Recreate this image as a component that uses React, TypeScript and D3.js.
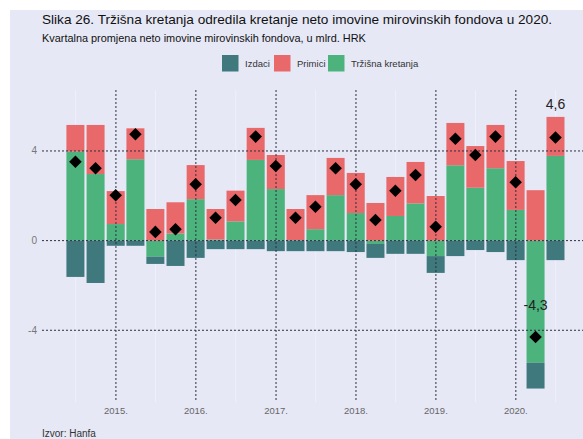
import React from "react";
import * as d3 from "d3";

const quarters = [
  "2014-06-30","2014-09-30","2014-12-31",
  "2015-03-31","2015-06-30","2015-09-30","2015-12-31",
  "2016-03-31","2016-06-30","2016-09-30","2016-12-31",
  "2017-03-31","2017-06-30","2017-09-30","2017-12-31",
  "2018-03-31","2018-06-30","2018-09-30","2018-12-31",
  "2019-03-31","2019-06-30","2019-09-30","2019-12-31",
  "2020-03-31","2020-06-30",
];
const trzisna = [3.97,2.97,0.74,3.63,-0.72,0.32,1.85,0.05,0.86,3.6,2.3,0.02,0.51,2.03,1.23,-0.15,1.1,1.66,-0.69,3.36,2.36,3.23,1.37,-5.45,3.78];
const primici = [1.19,2.19,1.47,1.38,1.41,1.39,1.52,1.36,1.37,1.43,1.52,1.39,1.52,1.66,1.79,1.68,1.74,1.85,1.99,1.89,1.86,1.93,2.18,2.25,1.74];
const izdaci = [-1.62,-1.89,-0.23,-0.23,-0.32,-1.13,-0.77,-0.38,-0.38,-0.38,-0.47,-0.47,-0.47,-0.47,-0.51,-0.62,-0.59,-0.59,-0.75,-0.69,-0.42,-0.51,-0.87,-1.15,-0.87];
const neto = [3.52,3.23,2.02,4.75,0.39,0.51,2.52,1.02,1.81,4.64,3.33,1.02,1.51,3.23,2.52,0.92,2.23,2.93,0.62,4.54,3.82,4.64,2.6,-4.3,4.6];
const yearTicks = [2015,2016,2017,2018,2019,2020];
const yTicks = [-4,0,4];
const labelled = [{ i: 24, text: "4,6" }, { i: 23, text: "-4,3" }];
const seriesNames = ["Izdaci","Primici","Tržišna kretanja"];

const W = 583, H = 439;
const colors = { izdaci: "#3f797e", primici: "#e9686a", trzisna: "#4cb37d" };
const font = "'Liberation Sans', Arial, sans-serif";

export default function App() {
  const parse = d3.timeParse("%Y-%m-%d");
  const dates = quarters.map(q => parse(q) as Date);
  const x = d3.scaleTime().domain([new Date(2014,0,1), new Date(2021,0,1)]).range([36, 596]);
  const y = d3.scaleLinear().domain([-7.2, 6.72]).range([402, 90]);
  const left = 42, right = 583, top = 90, bottom = 402;
  const bw = 18;

  const bars: any[] = [];
  dates.forEach((d, i) => {
    const cx = x(d);
    const g = trzisna[i];
    const gy0 = y(Math.max(0, g)), gy1 = y(Math.min(0, g));
    const posBase = Math.max(0, g);
    const negBase = Math.min(0, g);
    bars.push(<rect key={"g"+i} x={cx-bw/2} y={gy0} width={bw} height={gy1-gy0} fill={colors.trzisna} />);
    bars.push(<rect key={"p"+i} x={cx-bw/2} y={y(posBase+primici[i])} width={bw} height={y(posBase)-y(posBase+primici[i])} fill={colors.primici} />);
    bars.push(<rect key={"z"+i} x={cx-bw/2} y={y(negBase)} width={bw} height={y(negBase+izdaci[i])-y(negBase)} fill={colors.izdaci} />);
  });

  const midYears = d3.range(2014, 2021).map(yr => new Date(yr, 6, 1));
  const diamond = d3.symbol().type(d3.symbolDiamond2).size(100)();

  const legendItems = [
    { name: seriesNames[0], c: colors.izdaci, sx: 222, tx: 245 },
    { name: seriesNames[1], c: colors.primici, sx: 274, tx: 297 },
    { name: seriesNames[2], c: colors.trzisna, sx: 328, tx: 351 },
  ];

  return (
    <svg width={W} height={H} style={{ position: "absolute", left: 0, top: 0 }} fontFamily={font}>
      <rect x={0} y={0} width={W} height={H} fill="#fff" />
      <rect x={10} y={10} width={W-10} height={H-10} fill="#e6e8f6" />
      <text x={42} y={24} fontSize={13.6} fill="#111">Slika 26. Tržišna kretanja odredila kretanje neto imovine mirovinskih fondova u 2020.</text>
      <text x={42} y={42} fontSize={10.9} fill="#111">Kvartalna promjena neto imovine mirovinskih fondova, u mlrd. HRK</text>
      {legendItems.map(l => (
        <g key={l.name}>
          <rect x={l.sx} y={55} width={16.5} height={16.5} fill={l.c} />
          <text x={l.tx} y={67} fontSize={9.5} fill="#333">{l.name}</text>
        </g>
      ))}
      {midYears.map((d, i) => (
        <line key={"m"+i} x1={x(d)} x2={x(d)} y1={top} y2={bottom} stroke="#eef0fa" strokeWidth={1} />
      ))}
      {bars}
      {yTicks.map(t => (
        <g key={"y"+t}>
          <line x1={left} x2={right} y1={y(t)} y2={y(t)} stroke="#2c3040" strokeWidth={1} strokeDasharray="2,2" />
          <text x={37} y={y(t)+3.5} fontSize={10} fill="#777" textAnchor="end">{t}</text>
        </g>
      ))}
      {yearTicks.map(yr => {
        const xx = x(new Date(yr, 0, 1));
        return (
          <g key={"x"+yr}>
            <line x1={xx} x2={xx} y1={top} y2={bottom} stroke="#2c3040" strokeWidth={1} strokeDasharray="2,2" />
            <text x={xx} y={414} fontSize={9.5} fill="#666" textAnchor="middle">{yr + "."}</text>
          </g>
        );
      })}
      {dates.map((d, i) => (
        <path key={"d"+i} d={diamond as string} transform={`translate(${x(d)},${y(neto[i])})`} fill="#000" />
      ))}
      {labelled.map(l => (
        <text key={l.text} x={x(dates[l.i])} y={l.i === 24 ? 109 : 310} fontSize={14} fill="#222" textAnchor="middle">{l.text}</text>
      ))}
      <text x={42} y={437} fontSize={10} fill="#333">Izvor: Hanfa</text>
    </svg>
  );
}
